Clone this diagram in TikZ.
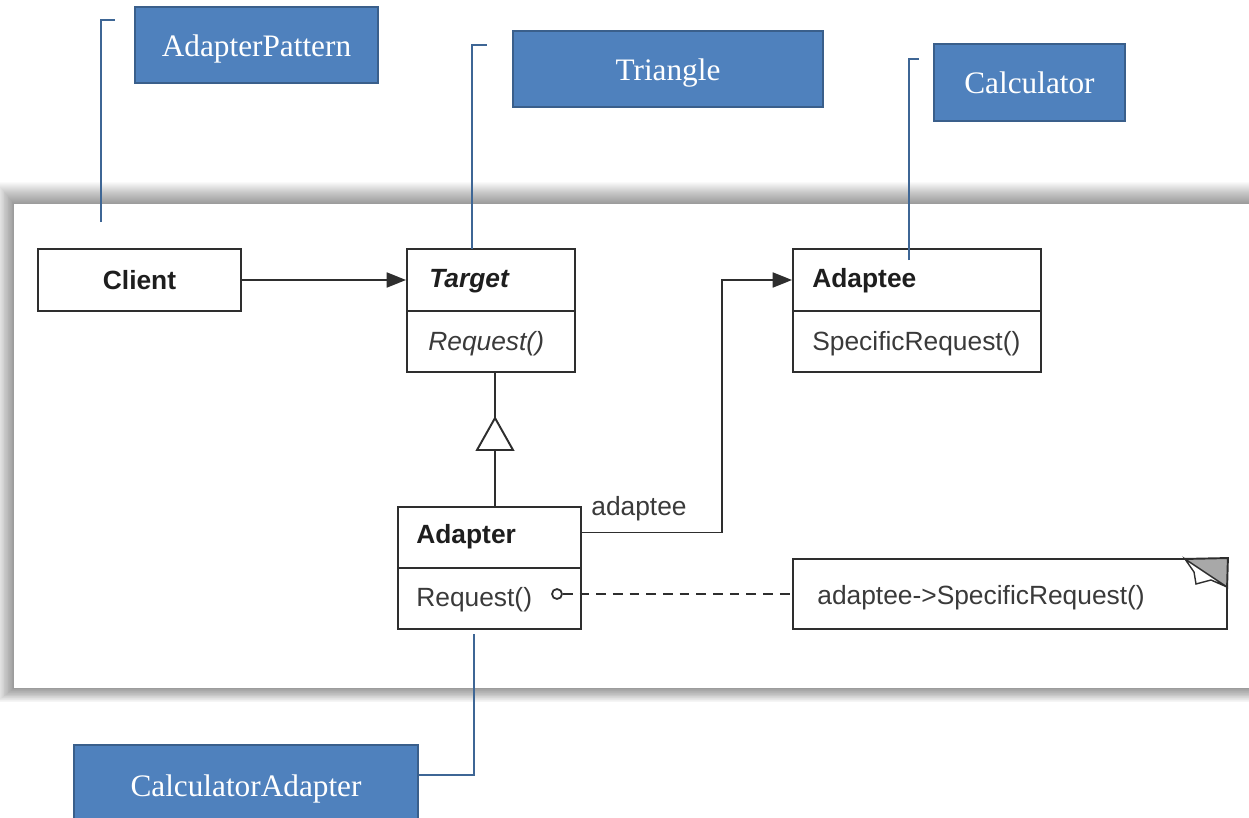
\documentclass[tikz,border=0pt]{standalone}
\usepackage{fontspec}
\setmainfont{Liberation Serif}
\setsansfont{Liberation Sans}
\usetikzlibrary{arrows.meta}

\definecolor{tagfill}{HTML}{4F81BD}
\definecolor{tagedge}{HTML}{3A5F8B}
\definecolor{leader}{HTML}{3E6695}
\definecolor{umlline}{HTML}{2E2E2E}
\definecolor{umltext}{HTML}{3A3A3A}
\definecolor{umlbold}{HTML}{1E1E1E}
\definecolor{earfill}{HTML}{A8A8A8}

\tikzset{
  tag/.style={draw=tagedge, line width=1.4pt, fill=tagfill, text=white,
    font=\rmfamily\fontsize{17.8}{20}\selectfont, inner sep=0pt,
    text height=13pt, text depth=0pt},
  leadline/.style={draw=leader, line width=1.4pt},
  umlbox/.style={draw=umlline, line width=1.1pt, fill=white, inner sep=0pt},
  umlname/.style={font=\sffamily\bfseries\fontsize{15}{18}\selectfont,
    text=umlbold, inner sep=0pt, anchor=west},
  umlop/.style={font=\sffamily\fontsize{15}{18}\selectfont,
    text=umltext, inner sep=0pt, anchor=west},
  umlwire/.style={draw=umlline, line width=1.1pt},
  assoc/.style={umlwire, -{Triangle[length=11pt,width=8.5pt]}},
}

\begin{document}
\begin{tikzpicture}[x=0.02cm, y=-0.02cm]
\useasboundingbox (0,0) rectangle (1249,818);
\clip (0,0) rectangle (1249,818);
\fill[white] (0,0) rectangle (1249,818);

% white panel with a soft shadow around it (stacked translucent layers)
\foreach \k in {1,...,22}{
  \fill[black, opacity=0.021] (14-0.8*\k,204-\k) rectangle (1300,688+0.65*\k);
}
\fill[white] (14,204) rectangle (1300,688);

% ---------- class boxes ----------
\node[umlbox, minimum width=4.06cm, minimum height=1.24cm,
  font=\sffamily\bfseries\fontsize{15}{18}\selectfont, text=umlbold]
  (client) at (139.5,280) {Client};

\node[umlbox, minimum width=3.36cm, minimum height=1.24cm] (target) at (491,280) {};
\node[umlbox, minimum width=3.36cm, minimum height=1.22cm] (targetops) at (491,341.5) {};
\node[umlname, font=\sffamily\bfseries\itshape\fontsize{15}{18}\selectfont]
  (targetname) at (429,281.5) {Target};
\node[umlop, font=\sffamily\itshape\fontsize{15}{18}\selectfont]
  (targetop) at (428,344) {Request()};

\node[umlbox, minimum width=4.96cm, minimum height=1.24cm] (adaptee) at (917,280) {};
\node[umlbox, minimum width=4.96cm, minimum height=1.22cm] (adapteeops) at (917,341.5) {};
\node[umlname] (adapteename) at (812,280.5) {Adaptee};
\node[umlop] (adapteeop) at (812,344) {SpecificRequest()};

\node[umlbox, minimum width=3.66cm, minimum height=1.22cm] (adapter) at (489.5,537.5) {};
\node[umlbox, minimum width=3.66cm, minimum height=1.22cm] (adapterops) at (489.5,598.5) {};
\node[umlname] (adaptername) at (416,537) {Adapter};
\node[umlop] (adapterop) at (416,600) {Request()};

% note with folded corner
\node[umlbox, minimum width=8.68cm, minimum height=1.4cm] (note) at (1010,594) {};
\node[umlop] (notetext) at (817,598) {adaptee->SpecificRequest()};
\fill[earfill] (1185,559) -- (1227,559) -- (1227,587) -- cycle;
\draw[umlline, line width=0.8pt, fill=white]
  (1185,559) -- (1194,572) -- (1196,584) -- (1211,580) -- (1227,587) -- cycle;
\draw[umlwire] (1183,559) -- (note.north east) -- (1227,590);

% ---------- relations ----------
\draw[assoc] (client.east) -- (target.west);

\coordinate (apex) at (495,418);
\draw[umlwire] (adapter.north -| apex) -- (targetops.south -| apex);
\draw[umlwire, fill=white] (apex) -- ++(-18,32) -- ++(36,0) -- cycle;

\coordinate (elbow) at (722,280);
\draw[assoc] ([yshift=0.1cm]adapter.east) -| (elbow) -- (adaptee.west);
\node[umlop] (rolename) at (591,509) {adaptee};

\node[circle, draw=umlline, line width=1pt, fill=white, minimum size=0.2cm,
  inner sep=0pt] (port) at (557,594) {};
\draw[umlwire, dash pattern=on 5.5pt off 4pt] (port.east) -- (note.west);

% ---------- callout tags ----------
\node[tag, minimum width=4.86cm, minimum height=1.52cm] (tagpattern) at (256.5,45) {AdapterPattern};
\node[tag, minimum width=6.2cm, minimum height=1.52cm] (tagtriangle) at (668,69) {Triangle};
\node[tag, minimum width=3.82cm, minimum height=1.54cm] (tagcalc) at (1029.5,82.5) {Calculator};
\node[tag, minimum width=6.88cm, minimum height=1.6cm] (tagcalcadapter) at (246,785) {CalculatorAdapter};

\coordinate (patternfoot) at (101,222);
\coordinate (patternhook) at (115,20);
\draw[leadline] (patternfoot) |- (patternhook);

\coordinate (trianglefoot) at (472,249);
\coordinate (trianglehook) at (487,45);
\draw[leadline] (trianglefoot) |- (trianglehook);

\coordinate (calcfoot) at (909,260);
\coordinate (calchook) at (919,59);
\draw[leadline] (calcfoot) |- (calchook);

\coordinate (adapterfoot) at (474,634);
\draw[leadline] ([yshift=0.2cm]tagcalcadapter.east) -| (adapterfoot);
\end{tikzpicture}
\end{document}
